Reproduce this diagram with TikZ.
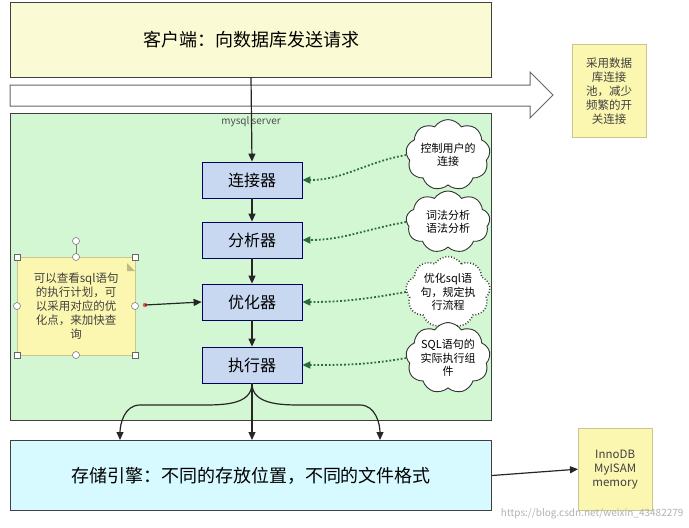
\documentclass[tikz,border=0pt]{standalone}
\usepackage{fontspec}
\setmainfont{Noto Sans CJK SC}
\usetikzlibrary{shapes.symbols,arrows.meta}
\definecolor{ylw}{HTML}{FAFAD4}
\definecolor{note}{HTML}{FCF7B0}
\definecolor{grn}{HTML}{D3F7D3}
\definecolor{blu}{HTML}{C8D8F0}
\definecolor{cyn}{HTML}{D6FAFF}
\definecolor{dots}{HTML}{2E6B3A}
\begin{document}
\begin{tikzpicture}[x=1pt,y=-1pt,
  big/.style={draw=black!75,line width=1pt},
  comp/.style={draw=blue!40!black,fill=blu,line width=0.8pt,minimum width=100pt,minimum height=36pt,font=\fontsize{16}{18}\selectfont},
  cld/.style={cloud,cloud puffs=9,cloud puff arc=115,aspect=1.3,draw=black!80,fill=white,line width=0.9pt,inner sep=0pt,align=center,font=\fontsize{11}{13.5}\selectfont,minimum width=84pt,minimum height=62pt},
  sticky/.style={fill=note,draw=note!80!black,line width=0.3pt,align=center,font=\fontsize{11.5}{14}\selectfont,text=black!75},
  flow/.style={-{Triangle[length=8pt,width=7pt]},line width=1.2pt,draw=black!85},
  dot/.style={-{Triangle[length=8pt,width=7pt]},line width=1.8pt,dotted,draw=dots},
  hnd/.style={draw=black!60,fill=white,line width=0.5pt}]
\useasboundingbox (0,0) rectangle (689,528);
\fill[white] (0,0) rectangle (689,528);
% client
\node[big,fill=ylw,minimum width=481pt,minimum height=75pt,anchor=north west,font=\fontsize{18}{20}\selectfont] (client) at (10,2) {客户端：向数据库发送请求};
% big arrow
\draw[draw=black!60,line width=1pt,fill=white] (10,85) -- (530,85) -- (530,72) -- (553,95) -- (530,118) -- (530,106) -- (10,106) -- cycle;
\node[sticky,minimum width=74pt,minimum height=93pt,anchor=north west] (n1) at (572,44) {采用数据\\库连接\\池，减少\\频繁的开\\关连接};
% server
\node[big,fill=grn,minimum width=481pt,minimum height=307pt,anchor=north west] (server) at (10,113) {};
\node[font=\fontsize{10}{12}\selectfont,text=black!70] (lbl) at (251,122) {mysql server};
\node[comp] (c1) at (252,180) {连接器};
\node[comp] (c2) at (252,240) {分析器};
\node[comp] (c3) at (252,302) {优化器};
\node[comp] (c4) at (252,365) {执行器};
\draw[flow] (251,77) -- (c1.north);
\draw[flow] (c1) -- (c2);
\draw[flow] (c2) -- (c3);
\draw[flow] (c3) -- (c4);
\node[cld] (k1) at (448,155) {控制用户的\\连接};
\node[cld] (k2) at (448,222) {词法分析\\语法分析};
\node[cld,dotted,line width=1.5pt] (k3) at (448,292) {优化sql语\\句，规定执\\行流程};
\node[cld] (k4) at (448,358) {SQL语句的\\实际执行组\\件};
\draw[dot] (k1.west) to[out=190,in=0] (c1.east);
\draw[dot] (k2.west) to[out=190,in=0] (c2.east);
\draw[dot] (k3.west) to[out=190,in=0] (c3.east);
\draw[dot] (k4.west) to[out=190,in=0] (c4.east);
% left note
\node[sticky,minimum width=118pt,minimum height=98pt,anchor=north west] (n2) at (17,257) {可以查看sql语句\\的执行计划，可\\以采用对应的优\\化点，来加快查\\询};
\fill[note!75!black] (127,263) -- (135,271) -- (127,271) -- cycle;
\draw[draw=black!50,line width=0.5pt] (76,257) -- (76,241);
\foreach \p in {(17,257),(135,257),(17,355),(135,355)} \draw[hnd] \p +(-3,-3) rectangle +(3,3);
\foreach \p in {(76,257),(76,241),(17,306),(135,306),(76,355)} \draw[hnd] \p circle (3.5);
\fill[red!70] (145,305) circle (2.2);
\draw[flow] (145,305) -- (c3.west);
% storage
\node[big,fill=cyn,minimum width=481pt,minimum height=70pt,anchor=north west,font=\fontsize{18}{20}\selectfont] (store) at (10,440) {存储引擎：不同的存放位置，不同的文件格式};
\coordinate (s1) at (120,440);
\coordinate (s3) at (380,440);
\draw[flow] (c4.south) to[out=-90,in=0] (200,405) -- (140,405) to[out=180,in=90] (s1);
\draw[flow] (c4.south) -- (store.north -| c4.south);
\draw[flow] (c4.south) to[out=-90,in=180] (300,405) -- (360,405) to[out=0,in=90] (s3);
\node[sticky,minimum width=74pt,minimum height=82pt,anchor=north west,font=\fontsize{11.5}{14}\selectfont] (n3) at (578,428) {InnoDB\\MyISAM\\memory};
\draw[flow] (store.east) -- (n3.west);
\node[text=black!30,font=\fontsize{10}{12}\selectfont,anchor=east] (wm) at (687,514) {https://blog.csdn.net/weixin\_43482279};
\end{tikzpicture}
\end{document}
